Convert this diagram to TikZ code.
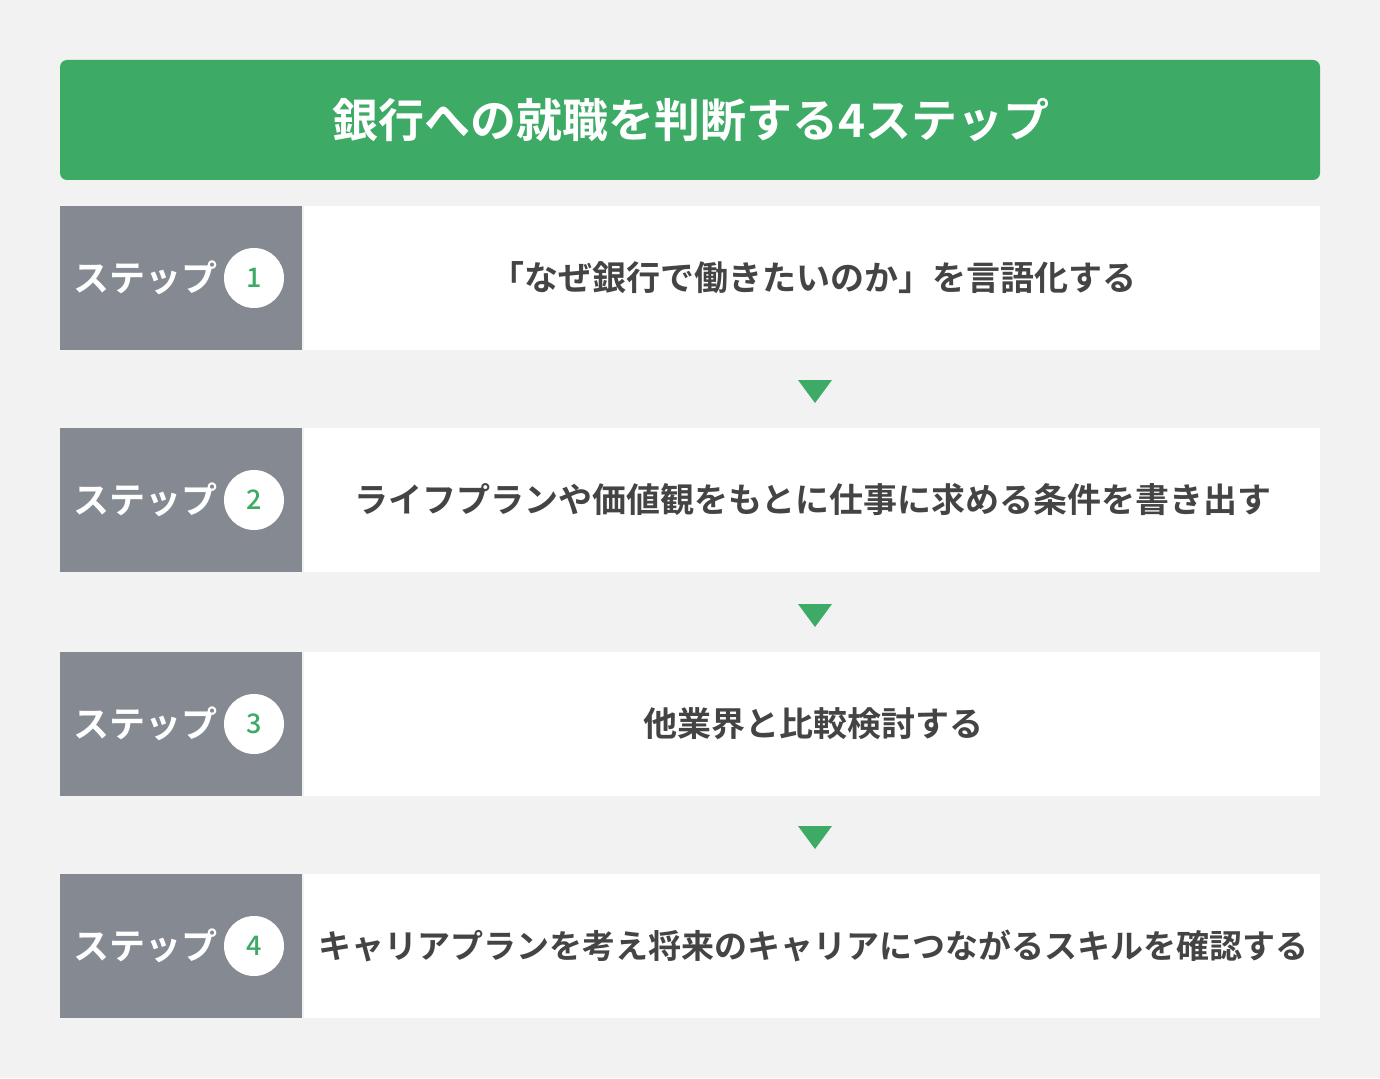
\documentclass[tikz,border=0pt]{standalone}
\usepackage{fontspec}
\setmainfont{Noto Sans CJK JP}[BoldFont={Noto Sans CJK JP Bold}]
\newfontfamily\numfont{Noto Sans CJK JP Medium}
\definecolor{bgc}{HTML}{F2F2F2}
\definecolor{grn}{HTML}{3DAA66}
\definecolor{gry}{HTML}{858A92}
\definecolor{txt}{HTML}{444444}
\begin{document}
\begin{tikzpicture}[x=1pt,y=-1pt,
  labelbox/.style={fill=gry,draw=none},
  textbox/.style={fill=white,draw=none},
  numcirc/.style={circle,fill=white,minimum size=60pt,inner sep=0pt,text=grn,font=\numfont\fontsize{27}{30}\selectfont},
  steplabel/.style={anchor=west,inner sep=0pt,text=white,font=\bfseries\fontsize{36}{40}\selectfont},
  rowtext/.style={text=txt,inner sep=0pt},
  tri/.style={fill=grn,draw=none}]
\fill[bgc] (0,0) rectangle (1380,1078);
\useasboundingbox (0,0) rectangle (1380,1078);
\fill[grn,rounded corners=7pt] (60,60) rectangle (1320,180);
\node[text=white,inner sep=0pt,font=\bfseries\fontsize{46}{50}\selectfont] (title) at (691,120) {銀行への就職を判断する4ステップ};
% rows
\foreach \i/\y/\t/\fs in {1/206/「なぜ銀行で働きたいのか」を言語化する/34,
  2/428/ライフプランや価値観をもとに仕事に求める条件を書き出す/34,
  3/652/他業界と比較検討する/34,
  4/874/キャリアプランを考え将来のキャリアにつながるスキルを確認する/33}{
  \fill[labelbox] (60,\y) rectangle (302,\y+144);
  \fill[textbox] (304,\y) rectangle (1320,\y+144);
  \node[steplabel] (lab\i) at (73,\y+72) {ステップ};
  \node[numcirc] (num\i) at (254,\y+72) {\i};
  \node[rowtext,font=\bfseries\fontsize{\fs}{38}\selectfont] (row\i) at (813,\y+72) {\t};
}
\foreach \y [count=\k] in {380,604,826}{
  \coordinate (t\k) at (815,\y);
  \fill[tri] (798,\y) -- (832,\y) -- (815,\y+23) -- cycle;
}
\end{tikzpicture}
\end{document}
